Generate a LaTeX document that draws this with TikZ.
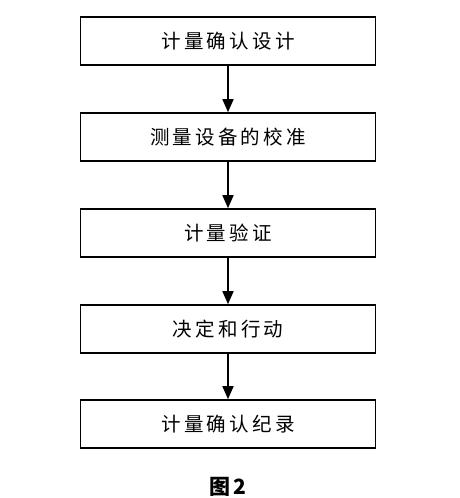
\documentclass[tikz,border=0pt]{standalone}
\usepackage{fontspec}
\newfontfamily\cjk{Noto Sans CJK SC}
\usetikzlibrary{arrows.meta}

\begin{document}
\begin{tikzpicture}[x=1pt, y=1pt,
    stepbox/.style={draw, line width=1.6pt, minimum width=295pt, minimum height=48pt,
      inner sep=0pt, font=\cjk\fontsize{19.5}{22}\selectfont},
    flow/.style={line width=1.6pt, -{Triangle[width=11pt,length=13pt]}}]
  \useasboundingbox (0,0) rectangle (460,-498);
  \node[stepbox] (design) at (228,-41) {计\,量\,确\,认\,设\,计};
  \node[stepbox] (calib) at (228,-137) {测\,量\,设\,备\,的\,校\,准};
  \node[stepbox] (verify) at (228,-233) {计\,量\,验\,证};
  \node[stepbox] (decide) at (228,-329) {决\,定\,和\,行\,动};
  \node[stepbox] (record) at (228,-424) {计\,量\,确\,认\,纪\,录};
  \draw[flow] (design) -- (calib);
  \draw[flow] (calib) -- (verify);
  \draw[flow] (verify) -- (decide);
  \draw[flow] (decide) -- (record);
  \node[font=\cjk\bfseries\fontsize{21}{24}\selectfont] (caption) at (228,-487) {图\,2};
\end{tikzpicture}
\end{document}
